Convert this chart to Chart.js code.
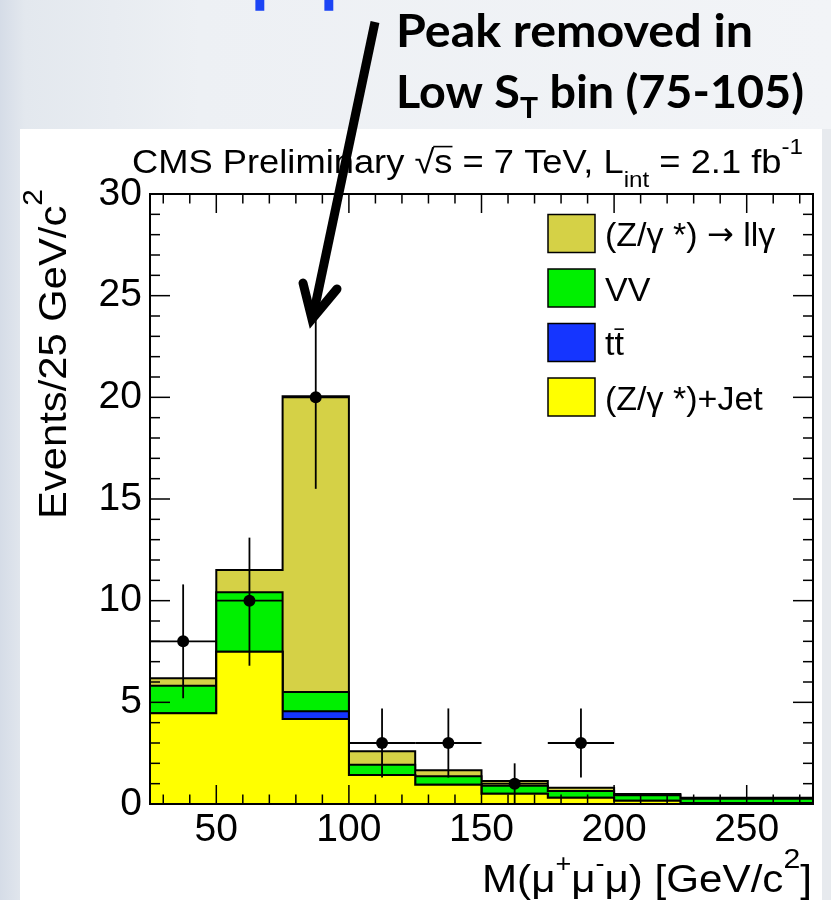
<!DOCTYPE html>
<html><head><meta charset="utf-8">
<script src="https://cdn.jsdelivr.net/npm/chart.js@4/dist/chart.umd.min.js"></script>
<style>
html,body{margin:0;padding:0;}
body{width:831px;height:900px;position:relative;overflow:hidden;
 background:linear-gradient(to right,#d5dce7 0px,#e3e8ee 25px,#edf0f4 200px,#f2f4f7 831px);}
#panel{position:absolute;left:20px;top:129px;width:802px;height:771px;background:#fff;}
#strip{position:absolute;left:822px;top:129px;width:9px;height:771px;background:#e7eaee;}
canvas{position:absolute;left:0;top:0;}
</style></head><body>
<div id="panel"></div><div id="strip"></div>
<canvas id="c" width="831" height="900"></canvas>
<script>
// ---------------- data ----------------
const binLow   = [25, 50, 75, 100, 125, 150, 175, 200, 225, 250];
const binWidth = 25;
const zJet     = [4.46, 7.49, 4.18, 1.43, 0.95, 0.51, 0.31, 0.16, 0.05, 0.05];
const ttbar    = [0, 0, 0.38, 0, 0, 0, 0, 0, 0, 0];
const vv       = [1.36, 2.92, 0.95, 0.50, 0.41, 0.39, 0.33, 0.27, 0.21, 0.21];
const llGamma  = [0.36, 1.10, 14.54, 0.66, 0.30, 0.23, 0.16, 0.06, 0.05, 0.05];

const dataX    = [37.5, 62.5, 87.5, 112.5, 137.5, 162.5, 187.5];
const dataY    = [8, 10, 20, 3, 3, 1, 3];
const errUp    = [2.8, 3.1, 4.5, 1.7, 1.7, 1.0, 1.7];
const errDown  = [2.8, 3.2, 4.5, 1.7, 1.7, 1.0, 1.7];

const xTicks   = [50, 100, 150, 200, 250];
const yTicks   = [0, 5, 10, 15, 20, 25, 30];
const seriesLabels = ['(Z/γ *) → llγ', 'VV', 'tt\u0304', '(Z/γ *)+Jet'];
const seriesColors = ['#d5d146', '#00f000', '#1535ff', '#ffff00'];

// ---------------- helpers ----------------
const FAM = "'Liberation Sans', Arial, Helvetica, sans-serif";
const ANN = "Lato, 'Open Sans', sans-serif";
const SYM = "'DejaVu Sans', sans-serif";

function cumulative(...arrs){ return arrs[0].map((_,i)=>arrs.reduce((a,r)=>a+r[i],0)); }
function stepPoints(vals){
  const pts=[];
  vals.forEach((v,i)=>{ pts.push({x:binLow[i],y:v}); pts.push({x:binLow[i]+binWidth,y:v}); });
  return pts;
}
const cumZ   = cumulative(zJet);
const cumT   = cumulative(zJet, ttbar);
const cumVV  = cumulative(zJet, ttbar, vv);
const cumAll = cumulative(zJet, ttbar, vv, llGamma);

function segFont(s, fam, weight){ return `${weight} ${s.s}px ${s.fam||fam}`; }
function richWidth(ctx, segs, fam, weight){
  let w=0; for(const s of segs){ ctx.font=segFont(s,fam,weight); w+=ctx.measureText(s.t).width; } return w;
}
function placeRich(ctx, segs, o){
  const fam=o.fam||FAM, weight=o.weight||'normal';
  ctx.save();
  const nat=richWidth(ctx,segs,fam,weight);
  const sx=o.width? o.width/nat : (o.sx||1);
  ctx.translate(o.x,o.y);
  if(o.rot) ctx.rotate(o.rot);
  if(o.align==='right') ctx.translate(-nat*sx,0);
  ctx.scale(sx,1);
  ctx.fillStyle=o.color||'#000'; ctx.strokeStyle=o.color||'#000';
  ctx.textAlign='left'; ctx.textBaseline='alphabetic';
  let x=0;
  for(const s of segs){
    ctx.font=segFont(s,fam,weight);
    const w=ctx.measureText(s.t).width;
    ctx.fillText(s.t,x,s.dy||0);
    if(s.over){
      ctx.lineWidth=1.6; ctx.beginPath();
      const yy=(s.dy||0)-s.s*s.over;
      ctx.moveTo(x+(s.ox||0),yy); ctx.lineTo(x+w,yy); ctx.stroke();
    }
    x+=w;
  }
  ctx.restore();
}
function line(ctx,x0,y0,x1,y1){ ctx.beginPath(); ctx.moveTo(x0,y0); ctx.lineTo(x1,y1); ctx.stroke(); }

// ---------------- decorations plugin ----------------
const deco = {
  id:'deco',
  beforeDatasetDraw(chart,args){
    if(args.index!==4) return;
    const ctx=chart.ctx, xs=chart.scales.x, ys=chart.scales.y;
    ctx.save(); ctx.strokeStyle='#000'; ctx.lineWidth=1.8;
    dataX.forEach((x,i)=>{
      const px=xs.getPixelForValue(x), py=ys.getPixelForValue(dataY[i]);
      line(ctx, xs.getPixelForValue(x-binWidth/2), py, xs.getPixelForValue(x+binWidth/2), py);
      line(ctx, px, ys.getPixelForValue(dataY[i]+errUp[i]), px, ys.getPixelForValue(Math.max(0,dataY[i]-errDown[i])));
    });
    ctx.restore();
  },
  afterDraw(chart){
    const ctx=chart.ctx, xs=chart.scales.x, ys=chart.scales.y;
    const {left,right,top,bottom}=chart.chartArea;
    ctx.save();
    // ticks
    ctx.strokeStyle='#000'; ctx.lineWidth=1.5;
    for(let v=xs.min+5; v<xs.max; v+=10){
      const px=xs.getPixelForValue(v); const L=(v%50===0)?19:9.5;
      line(ctx,px,bottom,px,bottom-L); line(ctx,px,top,px,top+L);
    }
    for(let v=ys.min; v<=ys.max; v+=1){
      const py=ys.getPixelForValue(v); const L=(v%5===0)?20:10;
      line(ctx,left,py,left+L,py); line(ctx,right,py,right-L,py);
    }
    // frame
    ctx.lineWidth=2; ctx.strokeRect(left,top,right-left,bottom-top);

    // title
    placeRich(ctx,[
      {t:'CMS Preliminary ',s:33},{t:'√',s:33},{t:'s',s:33,over:0.80,ox:-1},
      {t:' = 7 TeV, L',s:33},{t:'int',s:22,dy:14},{t:' = 2.1 fb',s:33},{t:'-1',s:22,dy:-19}
    ],{x:132,y:173,width:671});

    // x title
    placeRich(ctx,[
      {t:'M(',s:39},{t:'μ',s:39},{t:'+',s:25,dy:-20},{t:'μ',s:39},{t:'-',s:25,dy:-20},
      {t:'μ) [GeV/c',s:39},{t:'2',s:28,dy:-24},{t:']',s:39}
    ],{x:812,y:892,align:'right',width:330});

    // y title
    placeRich(ctx,[{t:'Events/25 GeV/c',s:39},{t:'2',s:28,dy:-24}],
      {x:66,y:189,rot:-Math.PI/2,align:'right',width:330});

    // legend (top to bottom: llγ, VV, tt̄, Z+jet)
    for(let i=0;i<seriesLabels.length;i++){
      const y0=214.5+i*54.5;
      ctx.fillStyle=seriesColors[i]; ctx.fillRect(548,y0,47,38);
      ctx.strokeStyle='#000'; ctx.lineWidth=1.5; ctx.strokeRect(548,y0,47,38);
      const lab=seriesLabels[i];
      const segs=[];
      const chars=[...lab];
      for(let k=0;k<chars.length;k++){
        if(chars[k]==='\u0304') continue;
        const over=chars[k+1]==='\u0304';
        const isArrow=chars[k]==='→';
        const last=segs[segs.length-1];
        if(!over && !isArrow && last && !last.over && !last.fam) last.t+=chars[k];
        else segs.push({t:chars[k],s:isArrow?32:34,over:over?0.76:0,fam:isArrow?SYM:undefined,dy:isArrow?-1:0});
      }
      placeRich(ctx,segs,{x:605,y:y0+19+12.5});
    }

    // annotation text
    placeRich(ctx,[{t:'Peak removed in',s:45}],{x:396,y:47,width:357,fam:ANN,weight:'bold'});
    placeRich(ctx,[{t:'Low S',s:45},{t:'T',s:29,dy:10},{t:' bin (75-105)',s:45}],
      {x:396,y:108,width:408,fam:ANN,weight:'bold'});

    // cut-off blue slide title letters (only descenders visible)
    ctx.save();
    ctx.beginPath(); ctx.rect(0,0,831,14); ctx.clip();
    ctx.fillStyle='#1b44f5'; ctx.font=`bold 72px ${ANN}`; ctx.textAlign='left'; ctx.textBaseline='alphabetic';
    ctx.fillText('p',251,-2); ctx.fillText('p',320,-2);
    ctx.restore();

    // arrow
    ctx.strokeStyle='#000'; ctx.lineWidth=9; ctx.lineCap='butt';
    line(ctx,375,22,313,316);
    ctx.lineCap='round'; ctx.lineJoin='miter'; ctx.miterLimit=10;
    ctx.beginPath(); ctx.moveTo(303,283); ctx.lineTo(312,319); ctx.lineTo(337,289); ctx.stroke();
    ctx.restore();
  }
};

// ---------------- chart ----------------
const lineDs = (label, vals, color) => ({
  label, data: stepPoints(vals), borderColor:'#000', borderWidth:2, backgroundColor:color,
  fill:'origin', pointRadius:0, tension:0, order:0
});
Chart.defaults.font.family = FAM;
new Chart(document.getElementById('c'), {
  type:'line',
  data:{ datasets:[
    lineDs(seriesLabels[3], cumZ,   seriesColors[3]),
    lineDs(seriesLabels[2], cumT,   seriesColors[2]),
    lineDs(seriesLabels[1], cumVV,  seriesColors[1]),
    lineDs(seriesLabels[0], cumAll, seriesColors[0]),
    { label:'Data', data:dataX.map((x,i)=>({x,y:dataY[i]})), showLine:false, fill:false,
      pointRadius:6, pointBackgroundColor:'#000', pointBorderColor:'#000', pointBorderWidth:0, order:-1 }
  ]},
  options:{
    responsive:false, animation:false, events:[],
    layout:{ padding:{ left:0, top:194, right:18, bottom:0 } },
    plugins:{ legend:{display:false}, tooltip:{enabled:false}, title:{display:false} },
    scales:{
      x:{ type:'linear', min:25, max:275,
          grid:{display:false, drawTicks:false}, border:{display:false},
          afterBuildTicks:a=>{ a.ticks = xTicks.map(v=>({value:v})); },
          afterFit:s=>{ s.height = 96; },
          ticks:{ autoSkip:false, maxRotation:0, padding:3, color:'#000', font:{size:39, family:FAM} } },
      y:{ type:'linear', min:0, max:30,
          grid:{display:false, drawTicks:false}, border:{display:false},
          afterBuildTicks:a=>{ a.ticks = yTicks.map(v=>({value:v})); },
          afterFit:s=>{ s.width = 150; },
          ticks:{ autoSkip:false, padding:8, color:'#000', font:{size:39, family:FAM} } }
    }
  },
  plugins:[deco]
});
</script>
</body></html>
